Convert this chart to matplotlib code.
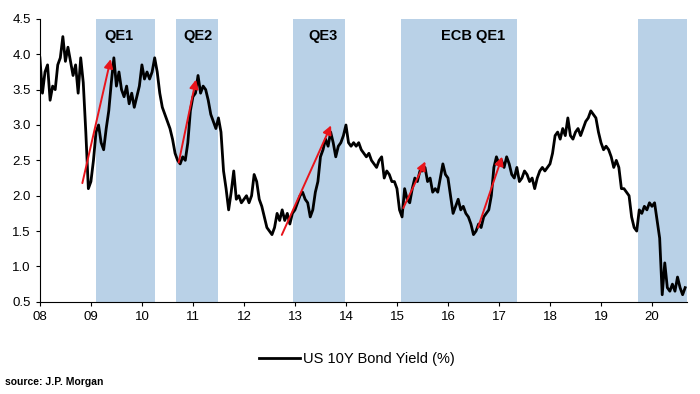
import numpy as np
import matplotlib
matplotlib.use("Agg")
import matplotlib.pyplot as plt

plt.rcParams['font.family'] = ['Liberation Sans', 'DejaVu Sans']

# US 10Y yield, every 0.05 year (x = years since 2000)
yields_by_year = {
    2008: [3.95, 3.45, 3.75, 3.85, 3.35, 3.55, 3.50, 3.85, 3.95, 4.25,
           3.90, 4.10, 3.90, 3.70, 3.85, 3.45, 3.95, 3.60, 2.90, 2.10],
    2009: [2.20, 2.50, 2.90, 3.00, 2.75, 2.65, 2.95, 3.20, 3.60, 3.95,
           3.55, 3.75, 3.50, 3.40, 3.55, 3.30, 3.45, 3.25, 3.40, 3.55],
    2010: [3.85, 3.65, 3.75, 3.65, 3.75, 3.95, 3.75, 3.45, 3.25, 3.15,
           3.05, 2.95, 2.80, 2.60, 2.50, 2.45, 2.55, 2.50, 2.75, 3.20],
    2011: [3.40, 3.45, 3.70, 3.45, 3.55, 3.50, 3.35, 3.15, 3.05, 2.95,
           3.10, 2.90, 2.35, 2.10, 1.80, 2.05, 2.35, 1.95, 2.00, 1.90],
    2012: [1.95, 2.00, 1.90, 2.00, 2.30, 2.20, 1.95, 1.85, 1.70, 1.55,
           1.50, 1.45, 1.55, 1.75, 1.65, 1.80, 1.65, 1.75, 1.60, 1.75],
    2013: [1.80, 1.90, 2.00, 2.05, 1.95, 1.90, 1.70, 1.80, 2.05, 2.20,
           2.55, 2.65, 2.80, 2.70, 2.90, 2.75, 2.55, 2.70, 2.75, 2.85],
    2014: [3.00, 2.75, 2.70, 2.75, 2.70, 2.75, 2.65, 2.60, 2.55, 2.60,
           2.50, 2.45, 2.40, 2.50, 2.55, 2.25, 2.35, 2.30, 2.20, 2.20],
    2015: [2.10, 1.80, 1.70, 2.10, 1.95, 1.90, 2.10, 2.25, 2.20, 2.35,
           2.35, 2.40, 2.20, 2.25, 2.05, 2.10, 2.05, 2.25, 2.45, 2.30],
    2016: [2.25, 2.00, 1.75, 1.85, 1.95, 1.80, 1.85, 1.75, 1.70, 1.60,
           1.45, 1.50, 1.60, 1.55, 1.70, 1.75, 1.80, 2.00, 2.40, 2.55],
    2017: [2.45, 2.50, 2.40, 2.55, 2.45, 2.30, 2.25, 2.40, 2.20, 2.25,
           2.35, 2.30, 2.20, 2.25, 2.10, 2.25, 2.35, 2.40, 2.35, 2.40],
    2018: [2.45, 2.60, 2.85, 2.90, 2.80, 2.95, 2.85, 3.10, 2.85, 2.80,
           2.90, 2.95, 2.85, 2.95, 3.05, 3.10, 3.20, 3.15, 3.10, 2.90],
    2019: [2.75, 2.65, 2.70, 2.65, 2.55, 2.40, 2.50, 2.40, 2.10, 2.10,
           2.05, 2.00, 1.70, 1.55, 1.50, 1.80, 1.75, 1.85, 1.80, 1.90],
    2020: [1.85, 1.90, 1.65, 1.40, 0.60, 1.05, 0.70, 0.65, 0.75, 0.65,
           0.85, 0.70, 0.60, 0.70],
}

# shaded QE periods (start, end) and their labels
qe_periods = [(9.09, 10.25), (10.67, 11.50), (12.97, 13.98), (15.08, 17.35), (19.73, 20.68)]
qe_labels = ['QE1', 'QE2', 'QE3', 'ECB QE1', '']
qe_label_x = [9.55, 11.1, 13.55, 16.5, None]

# red arrows: (start year, start yield) -> (end year, end yield)
arrows = [
    ((8.82, 2.14), (9.40, 3.97)),
    ((10.71, 2.43), (11.07, 3.68)),
    ((12.72, 1.41), (13.73, 3.03)),
    ((15.10, 1.79), (15.58, 2.52)),
    ((16.57, 1.51), (17.08, 2.59)),
]

t = []
y = []
for yr, vals in yields_by_year.items():
    for i, v in enumerate(vals):
        t.append(yr - 2000 + i * 0.05)
        y.append(v)

fig = plt.figure(figsize=(7, 3.94), dpi=100)
ax = fig.add_axes([0.057, 0.234, 0.924, 0.718])

for (a, b), lab, lx in zip(qe_periods, qe_labels, qe_label_x):
    ax.axvspan(a, b, color='#b9d1e7', lw=0, zorder=0)
    if lab:
        ax.text(lx, 4.26, lab, ha='center', va='center', fontsize=10.5, fontweight='bold')

ax.plot(t, y, color='black', lw=2.0, label='US 10Y Bond Yield (%)', zorder=2)

for (x0, y0), (x1, y1) in arrows:
    ax.annotate('', xy=(x1, y1), xytext=(x0, y0),
                arrowprops=dict(arrowstyle='-|>', color='#e8141b', lw=1.4, mutation_scale=13),
                zorder=3)

ax.set_xlim(8, 20.68)
ax.set_ylim(0.5, 4.5)
ax.set_xticks(range(8, 21))
ax.set_xticklabels([f'{v:02d}' for v in range(8, 21)])
ax.set_yticks(np.arange(0.5, 4.51, 0.5))
ax.set_yticklabels([f'{v:.1f}' for v in np.arange(0.5, 4.51, 0.5)])
ax.tick_params(labelsize=9.5, length=3, width=0.8, direction='out')
for s in ['top', 'right']:
    ax.spines[s].set_visible(False)
for s in ['left', 'bottom']:
    ax.spines[s].set_linewidth(0.8)

fig.legend(loc='center', bbox_to_anchor=(0.51, 0.088), frameon=False, fontsize=10.5,
           handlelength=2.8, handletextpad=0.2)
fig.text(0.007, 0.03, 'source: J.P. Morgan', fontsize=7.5, fontweight='bold', ha='left', va='center')

fig.savefig('out.png', dpi=100)
